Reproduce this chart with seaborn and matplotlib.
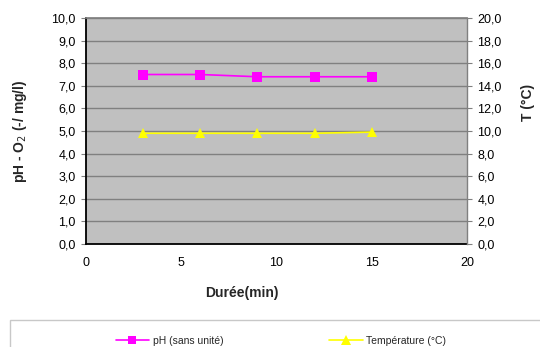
import matplotlib
matplotlib.use("Agg")
import matplotlib.pyplot as plt
import matplotlib.ticker as mticker
from matplotlib.lines import Line2D
from matplotlib.patches import Rectangle
import seaborn as sns
import pandas as pd

# Measurements
duree = [3, 6, 9, 12, 15]
ph = [7.5, 7.5, 7.4, 7.4, 7.4]
temperature = [9.8, 9.8, 9.8, 9.8, 9.9]

left_ticks = [0, 1, 2, 3, 4, 5, 6, 7, 8, 9, 10]
right_ticks = [0, 2, 4, 6, 8, 10, 12, 14, 16, 18, 20]
x_ticks = [0, 5, 10, 15, 20]

sns.set_theme(style="white")
plt.rcParams["font.family"] = ["Liberation Sans", "DejaVu Sans"]

df = pd.DataFrame({"duree": duree, "ph": ph, "temperature": temperature})

W, H = 540, 347
fig = plt.figure(figsize=(W / 100, H / 100), dpi=100)
ax = fig.add_axes([86 / W, 1 - 244 / H, (467 - 86) / W, (244 - 18) / H])
ax.set_facecolor("#C0C0C0")
ax2 = ax.twinx()

sns.lineplot(data=df, x="duree", y="ph", ax=ax, color="#FF00FF", marker="s",
             markersize=7, markeredgewidth=0, linewidth=1.2, zorder=3)
sns.lineplot(data=df, x="duree", y="temperature", ax=ax2, color="#FFFF00", marker="^",
             markersize=7.5, markeredgewidth=0, linewidth=1.2, zorder=3)

ax.set_xlim(0, 20)
ax.set_ylim(0, 10)
ax2.set_ylim(0, 20)
ax.set_xticks(x_ticks)
ax.set_yticks(left_ticks)
ax2.set_yticks(right_ticks)

comma = mticker.FuncFormatter(lambda v, p: f"{v:.1f}".replace(".", ","))
ax.yaxis.set_major_formatter(comma)
ax2.yaxis.set_major_formatter(comma)

for y in left_ticks[1:]:
    ax.axhline(y, color="#808080", linewidth=1.0, zorder=1)

for a in (ax, ax2):
    a.tick_params(axis="both", labelsize=9, colors="#000000", length=3.5,
                  width=0.8, direction="out", pad=4)
    a.tick_params(axis="both", color="#808080")
    a.set_xlabel("")
    a.set_ylabel("")
ax.tick_params(axis="x", pad=6)

for side in ("left", "bottom"):
    ax.spines[side].set_color("black")
    ax.spines[side].set_linewidth(1.3)
ax.spines["top"].set_color("#808080")
ax.spines["right"].set_visible(False)
ax2.spines["top"].set_visible(False)
ax2.spines["left"].set_visible(False)
ax2.spines["bottom"].set_visible(False)
ax2.spines["right"].set_color("#808080")
ax2.spines["right"].set_linewidth(1.0)

fig.text(20 / W, 1 - 131 / H, "pH - O$_2$ (-/ mg/l)", fontsize=10, fontweight="bold",
         rotation=90, ha="center", va="center")
fig.text(528 / W, 1 - 102 / H, "T (°C)", fontsize=10, fontweight="bold",
         rotation=90, ha="center", va="center")
fig.text(242 / W, 1 - 293 / H, "Durée(min)", fontsize=10, fontweight="bold",
         ha="center", va="center")

# Legend box below the chart
fig.patches.append(Rectangle((10 / W, -0.05), (545 - 10) / W, (1 - 320 / H) + 0.05,
                             transform=fig.transFigure, facecolor="white",
                             edgecolor="#C8C8C8", linewidth=1.0))
handles = [
    Line2D([], [], color="#FF00FF", marker="s", markersize=6, markeredgewidth=0, linewidth=1.2),
    Line2D([], [], color="#FFFF00", marker="^", markersize=6.5, markeredgewidth=0, linewidth=1.2),
]
fig.legend(handles, ["pH (sans unité)", "Température (°C)"], loc="center",
           bbox_to_anchor=(281 / W, 1 - 341 / H), ncol=2, frameon=False,
           fontsize=7.5, handlelength=3.2, handletextpad=0.35, columnspacing=10.2)

fig.savefig("out.png", dpi=100)
